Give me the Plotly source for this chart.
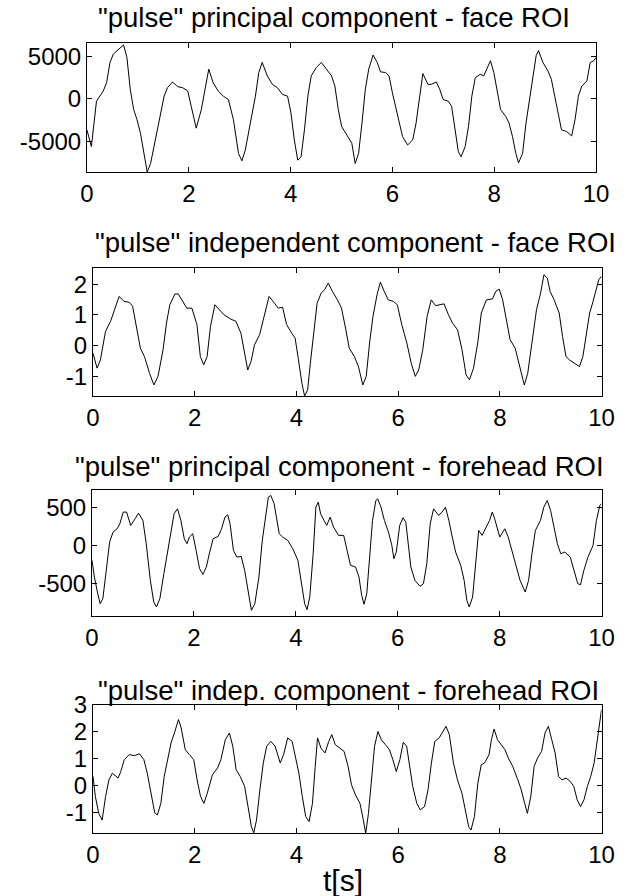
import plotly.graph_objects as go

# ---- data ----
t1 = [0.00,0.086,0.186,0.319,0.385,0.452,0.518,0.618,0.718,0.784,0.850,0.917,0.983,1.050,1.116,1.183,1.249,1.349,1.449,1.515,1.581,1.681,1.781,1.880,1.980,2.047,2.146,2.246,2.346,2.392,2.478,2.578,2.678,2.777,2.877,2.977,3.043,3.110,3.209,3.309,3.375,3.442,3.542,3.641,3.741,3.841,3.940,4.007,4.073,4.140,4.206,4.272,4.339,4.405,4.505,4.605,4.704,4.804,4.870,4.937,5.003,5.103,5.203,5.269,5.336,5.402,5.468,5.535,5.621,5.701,5.767,5.867,5.934,6.000,6.100,6.199,6.299,6.399,6.465,6.532,6.598,6.698,6.764,6.864,6.930,6.997,7.096,7.163,7.229,7.296,7.349,7.429,7.495,7.561,7.628,7.728,7.794,7.860,7.927,7.993,8.060,8.126,8.226,8.292,8.359,8.425,8.478,8.558,8.625,8.691,8.757,8.824,8.870,8.957,9.056,9.123,9.189,9.256,9.322,9.422,9.522,9.588,9.654,9.721,9.821,9.887,9.957,10.0]
pc_face = [-3700,-5650,-280,920,1910,4300,5300,5820,6370,4900,1115,-1275,-2470,-4064,-6454,-8645,-7649,-4860,-1673,319,1315,1992,1434,1315,916,-876,-3466,-1275,2311,3506,1912,916,319,-80,-2470,-6454,-7331,-6056,-2868,319,3108,4303,2709,1713,1315,518,319,-1673,-4860,-7251,-6852,-3665,319,2709,3705,4303,3506,2709,1514,-1275,-3267,-4263,-5259,-7649,-6454,-2868,1115,3506,5179,4303,3187,3108,2709,717,-2072,-4462,-5458,-4860,-2868,319,2988,1713,1713,1992,1115,-80,-279,-876,-3665,-6255,-6852,-5657,-3267,319,2510,2908,2709,3506,4502,3108,1115,-1275,-2072,-2868,-4462,-6454,-7570,-6454,-2868,-80,2311,5100,5697,4303,3307,2311,319,-1673,-3665,-3864,-4382,-2470,319,1514,2112,4303,4502,4900]

t2 = [0,0.08,0.146,0.246,0.346,0.413,0.513,0.613,0.712,0.779,0.846,0.932,1.012,1.112,1.198,1.278,1.378,1.445,1.511,1.611,1.678,1.744,1.844,1.944,2.044,2.111,2.177,2.244,2.310,2.397,2.477,2.577,2.710,2.810,2.909,2.976,3.043,3.109,3.176,3.276,3.376,3.462,3.542,3.642,3.728,3.808,3.908,3.975,4.041,4.108,4.161,4.221,4.274,4.341,4.407,4.487,4.554,4.627,4.707,4.807,4.887,4.973,5.040,5.140,5.220,5.306,5.373,5.439,5.506,5.586,5.652,5.726,5.806,5.906,5.985,6.072,6.172,6.258,6.338,6.405,6.485,6.571,6.651,6.738,6.818,6.904,6.991,7.071,7.170,7.257,7.337,7.404,7.483,7.570,7.636,7.736,7.856,7.923,7.989,8.056,8.135,8.202,8.302,8.402,8.482,8.549,8.635,8.722,8.802,8.868,8.935,8.988,9.068,9.168,9.234,9.301,9.368,9.468,9.567,9.634,9.701,9.767,9.834,9.900,9.947,10.0]
ic_face = [-0.25,-0.74,-0.47,0.46,0.79,1.11,1.60,1.44,1.41,1.28,0.62,-0.09,-0.36,-0.91,-1.29,-1.01,-0.14,0.73,1.33,1.68,1.68,1.49,1.22,1.22,0.68,-0.36,-0.63,-0.36,0.62,1.33,1.19,1.00,0.86,0.79,0.40,-0.25,-0.80,-0.52,0.02,0.35,1.06,1.60,1.44,1.22,1.25,0.68,0.40,0.24,-0.47,-1.23,-1.65,-1.45,-0.58,0.40,1.38,1.71,1.82,2.04,1.77,1.49,1.22,0.51,-0.09,-0.36,-0.69,-1.29,-1.01,0.08,0.95,1.66,2.07,1.77,1.49,1.44,1.33,0.68,0.08,-0.58,-1.01,-0.80,-0.14,0.95,1.49,1.30,1.33,1.36,1.00,0.73,0.51,-0.14,-0.96,-1.12,-0.74,0.13,1.06,1.49,1.52,1.77,1.84,1.49,0.79,0.19,-0.09,-0.80,-1.29,-0.91,0.19,1.17,1.71,2.31,2.20,1.77,1.49,1.06,0.29,-0.36,-0.47,-0.58,-0.69,-0.36,0.40,1.06,1.44,1.82,2.15,2.26]

t3 = [0,0.047,0.113,0.160,0.213,0.280,0.346,0.413,0.493,0.546,0.613,0.679,0.759,0.846,0.912,0.999,1.065,1.145,1.212,1.265,1.332,1.411,1.478,1.558,1.611,1.678,1.744,1.811,1.864,1.911,1.977,2.044,2.111,2.177,2.244,2.310,2.377,2.477,2.543,2.610,2.663,2.710,2.776,2.843,2.929,2.996,3.063,3.129,3.196,3.276,3.342,3.409,3.462,3.509,3.575,3.675,3.742,3.842,3.941,4.041,4.108,4.174,4.221,4.274,4.341,4.394,4.441,4.487,4.554,4.607,4.674,4.740,4.840,4.940,5.007,5.073,5.173,5.240,5.293,5.339,5.393,5.459,5.506,5.572,5.606,5.672,5.739,5.819,5.885,5.925,5.972,6.039,6.105,6.159,6.205,6.258,6.338,6.438,6.505,6.571,6.638,6.704,6.804,6.871,6.937,7.004,7.071,7.137,7.237,7.304,7.357,7.404,7.470,7.537,7.590,7.656,7.736,7.803,7.856,7.903,8.003,8.102,8.169,8.256,8.336,8.402,8.502,8.569,8.635,8.702,8.802,8.868,8.935,9.001,9.068,9.134,9.201,9.281,9.387,9.467,9.534,9.587,9.654,9.734,9.834,9.900,9.967,10.0]
pc_fh = [-197,-417,-636,-768,-702,-329,44,175,219,285,439,439,263,351,425,329,22,-461,-746,-811,-702,-373,-110,263,417,482,329,88,22,110,154,-66,-307,-382,-285,-88,88,118,219,373,404,285,-66,-154,-145,-329,-592,-855,-768,-417,66,373,636,658,548,154,110,66,-44,-197,-461,-768,-846,-680,-110,504,570,417,329,263,373,241,132,132,-66,-263,-285,-417,-658,-776,-636,-110,329,592,614,504,329,175,0,-175,-88,263,364,307,22,-285,-461,-539,-504,-241,285,482,395,439,504,329,110,-88,-263,-461,-724,-811,-680,-241,197,132,241,329,439,351,110,219,110,-110,-329,-461,-614,-461,-110,197,329,504,592,461,241,22,-110,-88,-154,-329,-504,-518,-329,-154,0,329,526,548]

t4 = [0,0.047,0.113,0.180,0.247,0.313,0.380,0.447,0.494,0.547,0.614,0.714,0.814,0.914,1.001,1.067,1.147,1.214,1.267,1.334,1.401,1.467,1.534,1.601,1.681,1.734,1.815,1.895,1.981,2.048,2.115,2.181,2.248,2.348,2.448,2.515,2.602,2.682,2.749,2.815,2.895,2.982,3.049,3.115,3.162,3.216,3.282,3.349,3.416,3.496,3.582,3.682,3.749,3.829,3.916,3.983,4.049,4.116,4.183,4.249,4.316,4.370,4.416,4.483,4.563,4.636,4.696,4.763,4.850,4.937,5.017,5.083,5.163,5.250,5.317,5.363,5.417,5.483,5.537,5.603,5.670,5.750,5.830,5.897,5.964,6.035,6.102,6.168,6.222,6.288,6.368,6.435,6.521,6.588,6.655,6.722,6.808,6.875,6.942,7.008,7.088,7.168,7.255,7.321,7.388,7.434,7.501,7.568,7.635,7.701,7.788,7.835,7.888,7.955,8.022,8.102,8.168,8.255,8.355,8.422,8.489,8.542,8.609,8.675,8.742,8.822,8.889,8.955,9.022,9.088,9.155,9.222,9.302,9.388,9.455,9.522,9.588,9.655,9.722,9.788,9.855,9.902,9.955,10.0]
ic_fh = [0.35,-0.40,-1.02,-1.27,-0.40,0.22,0.47,0.35,0.29,0.53,0.97,1.16,1.12,1.19,0.97,0.47,-0.40,-1.00,-1.08,-0.65,0.35,0.97,1.59,1.96,2.46,2.15,1.34,1.16,0.97,0.22,-0.40,-0.65,-0.27,0.41,0.66,0.97,1.71,1.96,1.47,0.60,0.35,-0.02,-0.77,-1.52,-1.74,-1.27,-0.15,0.85,1.47,1.65,1.47,0.85,1.16,1.78,1.65,1.09,0.47,-0.40,-1.14,-1.33,-0.65,0.72,1.78,1.40,1.22,1.65,1.90,1.53,1.40,1.28,0.72,0.04,-0.34,-0.65,-1.27,-1.77,-1.02,0.47,1.47,2.02,1.71,1.53,1.34,0.97,0.53,0.97,1.62,1.47,0.72,-0.02,-0.65,-0.89,-0.77,-0.15,0.85,1.65,1.78,2.02,2.21,1.90,0.85,0.22,-0.27,-0.89,-1.52,-1.64,-1.14,0.10,0.78,0.85,1.16,1.71,2.11,1.71,1.53,1.34,1.03,0.72,0.22,-0.15,-0.65,-1.02,-0.40,0.72,1.03,1.28,1.96,2.21,1.71,1.22,0.35,0.22,0.29,0.16,-0.02,-0.52,-0.77,-0.52,-0.02,0.35,0.85,1.47,2.34,2.83]

titles = ['"pulse" principal component - face ROI',
          '"pulse" independent component - face ROI',
          '"pulse" principal component - forehead ROI',
          '"pulse" indep. component - forehead ROI']
x_ticks = [0, 2, 4, 6, 8, 10]
x_ticktext = ["0", "2", "4", "6", "8", "10"]
y_ticks = [[-5000, 0, 5000], [-1, 0, 1, 2], [-500, 0, 500], [-1, 0, 1, 2, 3]]
y_ticktext = [["-5000", "0", "5000"], ["-1", "0", "1", "2"], ["-500", "0", "500"], ["-1", "0", "1", "2", "3"]]
x_label = "t[s]"

# ---- layout geometry (reference pixels) ----
W, H = 626, 896
boxes = [(87, 596, 43, 172), (93, 601.5, 268, 396), (92, 601.5, 490, 616), (93, 601.5, 705, 833)]
y_ranges = [[-8650, 6600], [-1.65, 2.53], [-930, 730], [-1.75, 3.0]]
title_pos = [(334, 18), (356, 242), (340, 466), (348, 690)]

FONT = "Liberation Sans, Arial, sans-serif"
fig = go.Figure()
series = [(t1, pc_face), (t2, ic_face), (t3, pc_fh), (t4, ic_fh)]
for i, (tx, vy) in enumerate(series):
    sfx = "" if i == 0 else str(i + 1)
    fig.add_trace(go.Scatter(x=tx, y=vy, mode="lines",
                             line=dict(color="black", width=1),
                             xaxis="x" + sfx, yaxis="y" + sfx,
                             showlegend=False, hoverinfo="skip"))
    x0, x1, y0, y1 = boxes[i]
    common = dict(showline=True, mirror="ticks", linecolor="black", linewidth=1,
                  ticks="inside", ticklen=5, tickcolor="black", tickwidth=1,
                  showgrid=False, zeroline=False, automargin=False,
                  tickfont=dict(family=FONT, size=24, color="black"))
    fig.layout["xaxis" + sfx] = dict(domain=[x0 / W, x1 / W], range=[0, 10],
                                     tickvals=x_ticks, ticktext=x_ticktext,
                                     anchor="y" + sfx, **common)
    fig.layout["yaxis" + sfx] = dict(domain=[1 - y1 / H, 1 - y0 / H], range=y_ranges[i],
                                     tickvals=y_ticks[i], ticktext=y_ticktext[i],
                                     anchor="x" + sfx, **common)
    tx_, ty_ = title_pos[i]
    fig.add_annotation(text=titles[i], x=tx_ / W, y=1 - ty_ / H, xref="paper", yref="paper",
                       showarrow=False, xanchor="center", yanchor="middle",
                       font=dict(family=FONT, size=27.5, color="black"))

fig.add_annotation(text=x_label, x=343 / W, y=1 - 880 / H, xref="paper", yref="paper",
                   showarrow=False, xanchor="center", yanchor="middle",
                   font=dict(family=FONT, size=30, color="black"))

fig.update_layout(width=W, height=H, margin=dict(l=0, r=0, t=0, b=0, pad=0),
                  paper_bgcolor="white", plot_bgcolor="white")
fig.write_html("out.html", config={"displayModeBar": False},
               post_script="document.body.style.margin='0';document.body.style.overflow='hidden';")
